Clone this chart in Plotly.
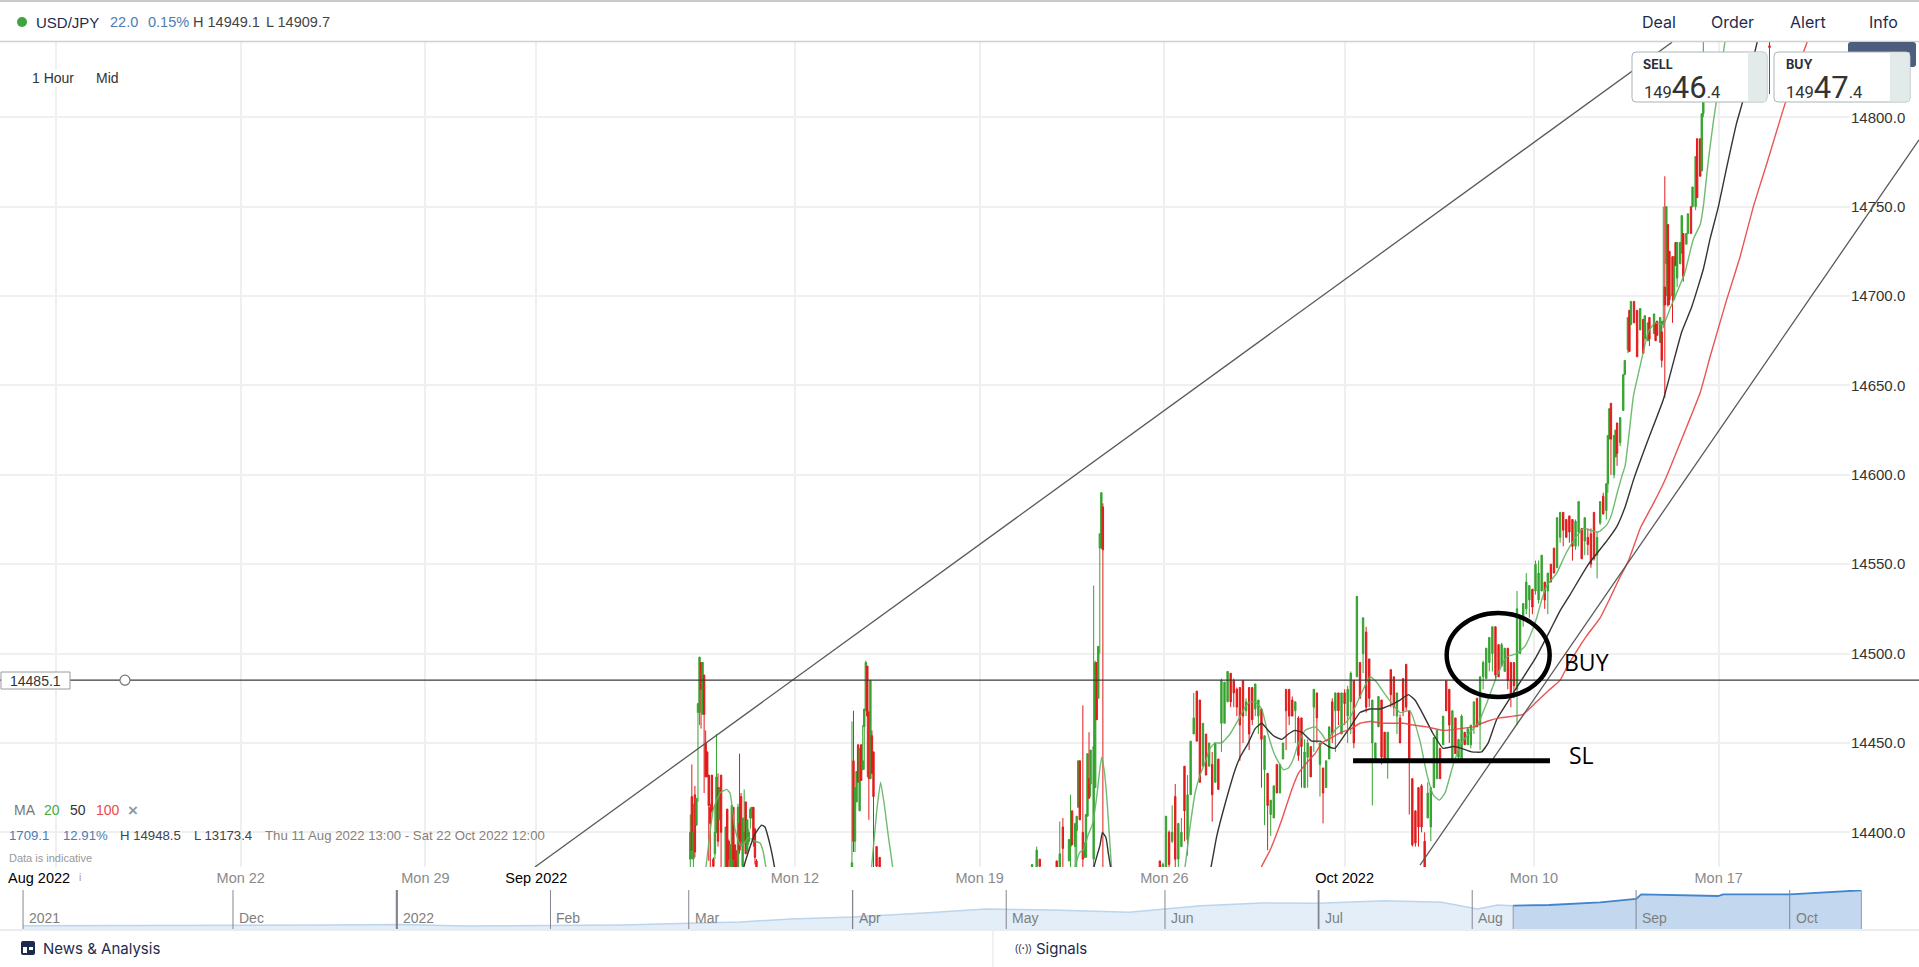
import plotly.graph_objects as go

# ---- hourly candles (x = trading hours since Mon 15 Aug 2022) ----
a_hours = list(range(412, 433)) + list(range(435, 456))
a_open = [14385,14420,14385,14421,14404,14467,14467,14495,14466,14488,14450,14445,14432,14414,14432,14385,14388,14400,14425,14407,14432,14380,14413,14395,14381,14380,14414,14393,14385,14380,14405,14420,14381,14395,14417,14389,14395,14408,14408,14414,14402,14384]
a_high = [14410,14438,14416,14426,14419,14472,14498,14495,14495,14488,14457,14445,14432,14416,14432,14386,14415,14455,14433,14425,14432,14403,14413,14396,14393,14415,14414,14393,14390,14416,14444,14422,14408,14424,14417,14407,14402,14414,14414,14414,14402,14385]
a_low = [14378,14385,14378,14386,14404,14417,14460,14458,14466,14422,14431,14431,14384,14380,14411,14375,14385,14400,14392,14407,14380,14375,14378,14378,14375,14378,14380,14375,14375,14378,14388,14392,14378,14395,14388,14389,14393,14402,14408,14392,14382,14375]
a_close = [14400,14390,14400,14389,14419,14472,14498,14480,14495,14466,14431,14431,14415,14405,14412,14381,14400,14431,14395,14425,14400,14403,14381,14385,14393,14415,14385,14380,14380,14414,14390,14395,14408,14400,14388,14407,14400,14413,14414,14395,14386,14378]

b_hours = [517,518,519,520,521,522,523,524,525,526,527,528,529,530,531,533,535]
b_open = [14380,14440,14395,14417,14449,14412,14449,14435,14459,14468,14493,14467,14430,14454,14445,14392,14386]
b_high = [14462,14468,14425,14434,14449,14447,14449,14460,14469,14496,14493,14468,14485,14457,14445,14392,14386]
b_low = [14378,14389,14389,14417,14428,14412,14429,14435,14435,14468,14431,14407,14430,14433,14380,14378,14375]
b_close = [14383,14395,14425,14434,14428,14447,14429,14440,14469,14495,14465,14430,14485,14433,14420,14381,14378]

c_hours = [634,637,639,650,652,654,658,659,660,662,663,664,665,667,668,669,670,671,672,674,675,676,677,678,679,680]
c_open = [14378,14378,14385,14384,14380,14403,14384,14392,14412,14392,14401,14414,14440,14400,14386,14386,14409,14430,14427,14385,14425,14495,14475,14559,14559,14582]
c_high = [14382,14392,14385,14384,14406,14408,14396,14421,14412,14405,14409,14440,14440,14471,14394,14410,14444,14456,14446,14538,14496,14495,14504,14567,14590,14584]
c_low = [14376,14376,14378,14378,14378,14380,14384,14380,14393,14380,14380,14414,14407,14380,14386,14386,14409,14419,14420,14380,14425,14463,14475,14500,14559,14378]
c_close = [14382,14390,14381,14380,14388,14391,14396,14396,14393,14405,14409,14440,14407,14385,14394,14410,14444,14419,14446,14448,14495,14463,14504,14567,14590,14558]

d1_hours = list(range(717, 845, 2))
d1_open = [14384,14378,14380,14400,14395,14420,14385,14392,14437,14396,
           14421,14455,14479,14474,14437,14455,14437,14438,14428,14441,
           14461,14461,14473,14489,14485,14480,14481,14485,14468,14481,
           14481,14469,14465,14469,14435,14433,14410,14408,14438,14422,
           14441,14480,14480,14474,14468,14464,14464,14425,14442,14448,
           14470,14478,14438,14436,14425,14441,14473,14468,14478,14455,
           14478,14465,14473,14485]
d1_high = [14384,14383,14409,14401,14415,14427,14405,14408,14437,14432,
           14451,14478,14479,14474,14461,14455,14450,14445,14450,14441,
           14486,14484,14490,14489,14486,14481,14481,14485,14475,14481,
           14481,14483,14474,14469,14454,14433,14418,14426,14438,14438,
           14450,14480,14480,14476,14473,14465,14464,14452,14452,14448,
           14480,14478,14450,14436,14440,14459,14475,14478,14478,14478,
           14480,14482,14490,14485]
d1_low = [14378,14375,14378,14378,14394,14378,14378,14392,14395,14387,
          14421,14455,14451,14428,14437,14432,14437,14406,14428,14424,
          14445,14461,14473,14470,14470,14465,14440,14450,14465,14446,
          14460,14465,14455,14425,14404,14390,14398,14408,14422,14422,
          14441,14446,14460,14465,14450,14440,14425,14425,14425,14431,
          14445,14450,14420,14405,14425,14441,14450,14445,14460,14455,
          14460,14450,14455,14447]
d1_close = [14379,14382,14409,14382,14400,14385,14405,14400,14412,14421,
            14451,14464,14451,14428,14461,14432,14450,14421,14450,14424,
            14485,14484,14490,14473,14478,14470,14460,14465,14473,14455,
            14463,14483,14474,14452,14454,14415,14418,14426,14422,14438,
            14450,14468,14465,14465,14473,14443,14448,14445,14450,14431,
            14480,14464,14450,14422,14440,14459,14455,14478,14468,14478,
            14472,14480,14489,14450]

d2_hours = list(range(845, 969, 2))
d2_open = [14487,14495,14500,14512,14497,14450,14440,14459,14474,14456,
           14440,14491,14487,14465,14464,14486,14494,14468,14430,14412,
           14425,14426,14395,14408,14403,14425,14430,14447,14449,14485,
           14480,14441,14464,14442,14441,14456,14449,14449,14460,14475,
           14460,14487,14486,14495,14500,14515,14505,14493,14490,14503,
           14495,14495,14480,14500,14520,14525,14530,14536,14535,14530,
           14535,14540]
d2_high = [14532,14495,14520,14515,14497,14474,14450,14476,14474,14456,
           14456,14491,14487,14478,14466,14486,14494,14468,14430,14412,
           14425,14427,14400,14428,14425,14453,14457,14447,14465,14485,
           14480,14468,14464,14452,14466,14456,14458,14460,14473,14475,
           14487,14496,14503,14509,14515,14515,14505,14506,14503,14503,
           14495,14495,14535,14520,14528,14545,14538,14536,14552,14552,
           14555,14540]
d2_low = [14487,14475,14489,14467,14470,14415,14440,14459,14438,14440,
          14430,14470,14465,14455,14450,14465,14468,14410,14392,14392,
          14392,14400,14378,14408,14395,14425,14430,14430,14449,14468,
          14450,14441,14444,14440,14441,14449,14449,14447,14455,14459,
          14446,14480,14486,14490,14490,14485,14487,14493,14490,14480,
          14470,14475,14460,14500,14515,14522,14520,14522,14533,14528,
          14535,14525]
d2_close = [14532,14475,14520,14470,14475,14474,14450,14476,14442,14440,
            14456,14477,14470,14478,14450,14468,14470,14440,14393,14394,
            14403,14403,14380,14422,14425,14453,14457,14430,14465,14468,
            14460,14468,14444,14452,14465,14449,14458,14460,14473,14459,
            14487,14495,14503,14509,14515,14488,14487,14505,14503,14485,
            14476,14482,14525,14520,14528,14540,14538,14526,14550,14545,
            14555,14530]

d3_hours = list(range(969, 1009, 2))
d3_open = [14535,14550,14559,14548,14565,14579,14575,14577,14575,14560,14568,14570,14563,14565,14567,14579,14555,14573,14588,14580]
d3_high = [14545,14550,14559,14576,14579,14579,14575,14577,14575,14575,14585,14570,14576,14570,14570,14579,14568,14585,14590,14595]
d3_low = [14522,14540,14545,14548,14562,14560,14565,14562,14552,14558,14560,14553,14555,14555,14548,14552,14542,14572,14578,14575]
d3_close = [14545,14540,14545,14576,14579,14569,14565,14568,14560,14574,14585,14553,14576,14561,14550,14553,14565,14585,14578,14595]

d4_hours = [1008,1009,1010,1012,1013,1014,1016,1018,1019,1021,1022,1023,1025,1027,1029,1031,1032,1034,1035,1038,1039,1040,1042,1043,1044,1045,1046,1047,1048,1050,1051,1052,1053,1055,1056,1057,1059,1060,1062,1063,1065,1066,1068,1069,1070,1113]
d4_open = [14595,14620,14640,14600,14610,14629,14618,14636,14656,14670,14692,14684,14697,14692,14681,14687,14676,14675,14688,14679,14685,14686,14674,14680,14684,14705,14718,14740,14725,14722,14698,14730,14710,14718,14724,14735,14729,14735,14750,14750,14750,14788,14788,14770,14802,14840]
d4_high = [14622,14637,14640,14622,14625,14629,14632,14656,14664,14688,14692,14697,14697,14692,14693,14687,14689,14685,14688,14690,14685,14686,14688,14686,14750,14767,14750,14740,14725,14722,14722,14730,14730,14730,14745,14735,14735,14746,14750,14761,14778,14788,14788,14802,14845,14870]
d4_low = [14590,14620,14600,14598,14610,14605,14616,14636,14656,14668,14669,14684,14685,14666,14681,14668,14676,14675,14672,14679,14675,14678,14674,14660,14682,14643,14700,14694,14695,14685,14698,14717,14705,14718,14724,14708,14729,14735,14735,14750,14748,14755,14767,14770,14800,14813]
d4_close = [14622,14637,14620,14622,14625,14612,14632,14656,14664,14688,14669,14697,14685,14666,14693,14668,14689,14685,14676,14690,14675,14678,14688,14664,14686,14695,14750,14695,14698,14700,14722,14717,14730,14730,14745,14711,14735,14746,14735,14761,14778,14755,14767,14802,14825,14839]

for s in ("a", "b", "c", "d1", "d2", "d3", "d4"):
    n = len(globals()[s + "_hours"])
    for f in ("open", "high", "low", "close"):
        assert len(globals()[f"{s}_{f}"]) == n, (s, f, n, len(globals()[f"{s}_{f}"]))

hours = a_hours + b_hours + c_hours + d1_hours + d2_hours + d3_hours + d4_hours
opens = a_open + b_open + c_open + d1_open + d2_open + d3_open + d4_open
highs = a_high + b_high + c_high + d1_high + d2_high + d3_high + d4_high
lows = a_low + b_low + c_low + d1_low + d2_low + d3_low + d4_low
closes = a_close + b_close + c_close + d1_close + d2_close + d3_close + d4_close

# ---- moving averages ----
ma20_x = [415,422.2,424.8,427,431.3,435.6,437.8,441,444.3,446.4,449.7,454,457.3,459.4,461,465,
          525,529.8,533,535.6,538.4,540.6,543.4,548,
          655,662,665.2,667.3,670.6,673.4,676,677.7,679.2,680.8,682.5,684.7,685.7,692,
          725,733.4,736.6,739.9,743.1,746.4,749.6,752.9,757.2,762.6,768,772.4,775.6,778.9,783.2,787.5,791.8,797.3,800.5,803.7,807,811.3,817.8,822.2,825.4,828.6,833,837.3,841.6,
          847,853.5,857.8,864.3,873,879.4,886,890.3,894.6,898.5,902.2,907.6,913,919.5,923.8,929.2,935.7,942.2,948.7,954.1,
          957.5,961.8,965,968.3,974.8,980.2,985.6,992.1,996.5,1001.9,1007.3,1010.5,1013.8,1017,1019.2,
          1021.4,1024.6,1029,1034.3,1038.7,1044,1048.4,1053.8,1058,1063.6,1068,1070,1073.3,1076.6,1078.7,1084,1088]
ma20_y = [14350,14381,14400,14413,14422,14424,14422,14402,14393,14393,14397,14395,14394,14389,14381,14360,
          14350,14381,14411,14428,14413,14398,14381,14350,
          14350,14381,14389,14390,14399,14405,14420,14433,14442,14435,14420,14392,14380,14350,
          14340,14381,14403,14422,14432,14439,14447,14450,14450,14455,14463,14470,14473,14473,14469,14454,14443,14435,14436,14441,14450,14457,14459,14455,14451,14455,14459,14461,14466,
          14476,14487,14484,14476,14467,14468,14451,14433,14421,14418,14422,14438,14450,14457,14461,14472,14487,14498,14500,14504,
          14510,14520,14530,14538,14545,14555,14563,14570,14569,14568,14572,14578,14589,14599,14605,
          14620,14644,14661,14680,14685,14684,14693,14704,14713,14732,14740,14750,14776,14798,14810,14842,14870]

ma50_x = [440,446.9,449.7,454,458.3,460.5,463.8,466.6,472,
          668,674.3,678.2,679.7,682,683.6,685.1,690,
          742,750.3,754,759.4,765.9,769.1,774.5,778.9,783.2,786.4,790.8,796.2,800.5,804.8,809.2,815.7,821.1,826.5,830.8,835.1,841.5,
          847,853.5,860,866.4,873,878.4,882.7,888,894.6,901,907.6,913,919.5,926,930.3,935.7,942.2,948.7,954,
          960.7,970.5,977,983.5,995.4,1007.3,1013.8,1019.2,1024.6,1027,
          1034.3,1044,1050.6,1056,1062.5,1070,1074.4,1079.8,1085.2,1091.7,1096,1105,1110]
ma50_y = [14350,14381,14389,14399,14404,14403,14393,14381,14350,
          14350,14381,14393,14400,14397,14388,14380,14350,
          14350,14381,14398,14416,14435,14442,14450,14458,14461,14458,14454,14452,14455,14457,14456,14451,14451,14448,14447,14452,14460,
          14467,14469,14469,14471,14474,14477,14474,14466,14455,14447,14448,14447,14445,14445,14450,14463,14472,14481,14488,
          14497,14513,14524,14533,14550,14563,14571,14582,14597,14603,
          14620,14642,14663,14680,14694,14715,14732,14750,14772,14797,14810,14842,14860]

ma100_x = [775,783.2,788.6,796.2,802.7,807,813.5,817.8,822.2,828.6,835.1,841.5,
           847,853.5,862,875,881.6,890.3,901,911.9,920.6,929.2,937.9,946.6,953,961.7,970.4,976.9,981.2,
           986.7,994.3,1003,1009.4,1014.9,1021.4,1029,1037.6,1044,1048,
           1056,1068,1074.4,1085.2,1093.9,1102.5,1111.2,1124,1137.4,1145]
ma100_y = [14360,14381,14390,14407,14424,14433,14440,14444,14450,14453,14456,14458,
           14461,14462,14461,14461,14460,14459,14457,14458,14459,14462,14464,14465,14466,14473,14480,14485,14492,
           14500,14510,14520,14531,14541,14552,14570,14584,14595,14603,
           14620,14646,14666,14698,14722,14750,14774,14810,14842,14860]

# ---- drawn lines ----
trend1_x = [311.1, 1049.7]
trend1_y = [14380.6, 14842.0]
trend2_x = [886.0, 1210.1]
trend2_y = [14381.7, 14787.4]
level_value = 14485.1

# ---- axes ----
y_ticks = [14400, 14450, 14500, 14550, 14600, 14650, 14700, 14750, 14800]
x_ticks = [0, 120, 240, 312, 480, 600, 720, 837, 960, 1080]
x_labels = ["", "Mon 22", "Mon 29", "Sep 2022", "Mon 12", "Mon 19", "Mon 26", "Oct 2022", "Mon 10", "Mon 17"]

# ---- navigator ----
nav_dates = ["2021-10-21","2021-11-10","2021-12-01","2021-12-20","2022-01-03","2022-01-15","2022-02-01","2022-02-15",
             "2022-02-28","2022-03-10","2022-03-20","2022-04-01","2022-04-15","2022-04-27","2022-05-10","2022-05-25",
             "2022-06-01","2022-06-08","2022-06-20","2022-07-01","2022-07-14","2022-07-25","2022-08-01","2022-08-05","2022-08-08"]
nav_values = [10875,10900,10860,10950,11010,10840,10900,10950,11150,11300,11640,11875,12335,12800,12680,12415,
              12800,13175,13485,13450,13750,13565,12800,13255,13175]
sel_dates = ["2022-08-08","2022-08-15","2022-08-25","2022-09-01","2022-09-02","2022-09-17","2022-09-18","2022-10-01","2022-10-15"]
sel_values = [13175,13255,13565,13945,14485,14290,14485,14485,14945]
nav_ticks = ["2021-10-21","2021-12-01","2022-01-02","2022-02-01","2022-02-28","2022-04-01","2022-05-01","2022-06-01","2022-07-01","2022-07-31","2022-09-01","2022-10-01"]
nav_labels = ["2021","Dec","2022","Feb","Mar","Apr","May","Jun","Jul","Aug","Sep","Oct"]
nav_widths = [1, 1, 2.2, 1, 1, 1.3, 1, 1, 1.8, 1, 1, 1]

W, H = 1919, 967
SANS = "Liberation Sans, Arial, sans-serif"
GREEN, RED = "#35a32f", "#e21a1a"

fig = go.Figure()
# grid-only trace on the first subplot
fig.add_trace(go.Scatter(x=[0], y=[14500], mode="markers", marker=dict(opacity=0), hoverinfo="skip",
                         showlegend=False, xaxis="x", yaxis="y"))
fig.add_trace(go.Candlestick(
    x=hours, open=opens, high=highs, low=lows, close=closes, xaxis="x2", yaxis="y2",
    increasing=dict(line=dict(color=GREEN, width=1), fillcolor=GREEN),
    decreasing=dict(line=dict(color=RED, width=1), fillcolor=RED),
    whiskerwidth=0, showlegend=False, hoverinfo="skip"))
for xs, ys, col in [(ma20_x, ma20_y, "rgba(95,180,95,0.9)"),
                    (ma50_x, ma50_y, "#333333"),
                    (ma100_x, ma100_y, "rgba(232,65,65,0.9)")]:
    fig.add_trace(go.Scatter(x=xs, y=ys, mode="lines", line=dict(color=col, width=1.4, shape="spline", smoothing=0.4),
                             xaxis="x2", yaxis="y2", showlegend=False, hoverinfo="skip"))
for xs, ys in [(trend1_x, trend1_y), (trend2_x, trend2_y)]:
    fig.add_trace(go.Scatter(x=xs, y=ys, mode="lines", line=dict(color="#5a5a5a", width=1.3),
                             xaxis="x2", yaxis="y2", showlegend=False, hoverinfo="skip"))
fig.add_trace(go.Scatter(x=[-40, 1215], y=[level_value, level_value], mode="lines",
                         line=dict(color="#3a3a3a", width=1.2), xaxis="x2", yaxis="y2",
                         showlegend=False, hoverinfo="skip"))
fig.add_trace(go.Scatter(x=[44.8], y=[level_value], mode="markers",
                         marker=dict(size=10, color="white", line=dict(color="#777777", width=1.2)),
                         xaxis="x2", yaxis="y2", showlegend=False, hoverinfo="skip"))
# navigator
fig.add_trace(go.Scatter(x=nav_dates, y=nav_values, mode="lines", fill="tozeroy", fillcolor="#e3eef8",
                         line=dict(color="#bcd5ec", width=1.5), xaxis="x3", yaxis="y3",
                         showlegend=False, hoverinfo="skip"))
fig.add_trace(go.Scatter(x=sel_dates, y=sel_values, mode="lines", fill="tozeroy", fillcolor="#c3d8ef",
                         line=dict(color="#3f85cf", width=1.8), xaxis="x3", yaxis="y3",
                         showlegend=False, hoverinfo="skip"))

yrange = [14380.6, 14842.1]
ydom = [(H - 867) / H, (H - 42) / H]
layout = dict(
    width=W, height=H, autosize=False, margin=dict(l=0, r=0, t=0, b=0),
    paper_bgcolor="white", plot_bgcolor="rgba(0,0,0,0)", showlegend=False, boxgap=0.12, boxgroupgap=0,
    xaxis=dict(domain=[0, 1850 / W], range=[-36.37, 1165.3], tickmode="array", tickvals=x_ticks,
               ticktext=[f'<span style="color:#000">{t}</span>' if "20" in t else t for t in x_labels],
               showgrid=True, gridcolor="#efefef", gridwidth=1.5, zeroline=False, showline=False, ticks="",
               tickfont=dict(family=SANS, size=14.5, color="#8a8a8a"), anchor="y", fixedrange=True),
    yaxis=dict(domain=ydom, range=yrange, side="right", anchor="x", tickmode="array", tickvals=y_ticks,
               ticktext=[f"{v:.1f}" for v in y_ticks], showgrid=True, gridcolor="#f0f0f0", gridwidth=1.5,
               zeroline=False, showline=False, ticks="", tickfont=dict(family=SANS, size=15, color="#333333"),
               fixedrange=True),
    xaxis2=dict(domain=[0, 1], range=[-36.37, 1210.1], visible=False, rangeslider=dict(visible=False),
                anchor="y2", fixedrange=True),
    yaxis2=dict(domain=ydom, range=yrange, visible=False, anchor="x2", fixedrange=True),
    xaxis3=dict(domain=[0, 1], type="date", range=["2021-10-16 12:00", "2022-10-26 06:00"], visible=False,
                anchor="y3", fixedrange=True),
    yaxis3=dict(domain=[(H - 929) / H, (H - 890) / H], range=[10490, 14980], visible=False, anchor="x3",
                fixedrange=True),
)

def px(x): return x / W
def py(y): return 1 - y / H

def rrect(x0, y0, x1, y1, r=4):
    a, b, c, d = px(x0), py(y0), px(x1), py(y1)
    rx, ry = r / W, r / H
    return (f"M{a + rx},{b} L{c - rx},{b} Q{c},{b} {c},{b - ry} L{c},{d + ry} Q{c},{d} {c - rx},{d} "
            f"L{a + rx},{d} Q{a},{d} {a},{d + ry} L{a},{b - ry} Q{a},{b} {a + rx},{b} Z")

shapes = [
    dict(type="rect", xref="paper", yref="paper", x0=0, x1=1, y0=py(2), y1=py(0), fillcolor="#c9c9c9", line_width=0),
    dict(type="line", xref="paper", yref="paper", x0=0, x1=1, y0=py(41.5), y1=py(41.5), line=dict(color="#d0d0d0", width=1.5)),
    dict(type="line", xref="paper", yref="paper", x0=0, x1=1, y0=py(930), y1=py(930), line=dict(color="#e3e6e8", width=1.5)),
    dict(type="line", xref="paper", yref="paper", x0=px(993), x1=px(993), y0=py(931), y1=0, line=dict(color="#e3e3e3", width=1)),
    dict(type="circle", xref="paper", yref="paper", x0=px(17), x1=px(27), y0=py(27), y1=py(17), fillcolor="#3fa33f", line_width=0),
]
for d, w in zip(nav_ticks, nav_widths):
    shapes.append(dict(type="line", xref="x3", yref="paper", x0=d, x1=d, y0=py(929), y1=py(890),
                       line=dict(color="#85858f", width=w)))
shapes.append(dict(type="line", xref="x3", yref="paper", x0="2022-08-08", x1="2022-08-08", y0=py(929), y1=py(905.5),
                   line=dict(color="#85858f", width=0.8)))
shapes.append(dict(type="line", xref="x3", yref="paper", x0="2022-10-15", x1="2022-10-15", y0=py(929), y1=py(891),
                   line=dict(color="#85858f", width=0.8)))
shapes += [
    # hand-drawn marks
    dict(type="circle", xref="x2", yref="y2", x0=903.3, x1=970.2, y0=14475.7, y1=14522.7, line=dict(color="#000000", width=4.5)),
    dict(type="line", xref="x2", yref="y2", x0=842.5, x1=970.4, y0=14440, y1=14440, line=dict(color="#000000", width=5)),
    # level tag
    dict(type="rect", xref="paper", yref="paper", x0=px(1), x1=px(70), y0=py(689), y1=py(672), fillcolor="white", line=dict(color="#9a9a9a", width=1)),
    # price tag and sell / buy boxes
    dict(type="path", xref="paper", yref="paper", path=rrect(1848, 42, 1916, 67, 3), fillcolor="#4c5d7d", line_width=0),
    dict(type="path", xref="paper", yref="paper", path=rrect(1632, 52, 1767, 102), fillcolor="white", line=dict(color="#aab4b6", width=1)),
    dict(type="rect", xref="paper", yref="paper", x0=px(1748), x1=px(1766.5), y0=py(101.5), y1=py(52.5), fillcolor="#e3eaea", line_width=0),
    dict(type="path", xref="paper", yref="paper", path=rrect(1774, 52, 1910, 102), fillcolor="white", line=dict(color="#aab4b6", width=1)),
    dict(type="rect", xref="paper", yref="paper", x0=px(1890), x1=px(1909.5), y0=py(101.5), y1=py(52.5), fillcolor="#e3eaea", line_width=0),
    # news icon
    dict(type="path", xref="paper", yref="paper", path=rrect(21, 941, 35, 955, 2), fillcolor="#1d2b4f", line_width=0),
    dict(type="rect", xref="paper", yref="paper", x0=px(23), x1=px(27), y0=py(953), y1=py(947), fillcolor="white", line_width=0),
    dict(type="rect", xref="paper", yref="paper", x0=px(29), x1=px(33), y0=py(950), y1=py(947), fillcolor="white", line_width=0),
]
layout["shapes"] = shapes

def note(x, y, text, size=14, color="#333333", anchor="left", family=SANS, **kw):
    return dict(xref="paper", yref="paper", x=px(x), y=py(y), text=text, showarrow=False, xanchor=anchor, yanchor="middle",
                font=dict(family=family, size=size, color=color), borderpad=0, **kw)

BLUE = "#4a7db5"
NAVY = "#1d2b4f"
ann = [
    note(35, 22, "USD/JPY", 15, NAVY),
    note(109, 22, "22.0", 14.5, BLUE), note(147, 22, "0.15%", 14.5, BLUE),
    note(192, 22, "H 14949.1", 14.5, "#444444"), note(265, 22, "L 14909.7", 14.5, "#444444"),
    note(1641, 22, "Deal", 16, NAVY, family="Inter"), note(1710, 22, "Order", 16, NAVY, family="Inter"),
    note(1789, 22, "Alert", 16, NAVY, family="Inter"), note(1868, 22, "Info", 16, NAVY, family="Inter"),
    note(31, 78, "1 Hour", 14, "#333333", bgcolor="white"), note(95, 78, "Mid", 14, "#333333"),
    note(35.5, 680.5, "14485.1", 14, "#333333", anchor="center"),
    note(13, 810, "MA", 14, "#777777"), note(43, 810, "20", 14, "#45a845"), note(69, 810, "50", 14, "#333333"),
    note(95, 810, "100", 14, "#e84a4a"), note(127, 810, "<b>×</b>", 17, "#999999"),
    note(8, 835, "1709.1", 13.2, BLUE), note(62, 835, "12.91%", 13.2, BLUE),
    note(119, 835, "H 14948.5", 13.2, "#444444"), note(193, 835, "L 13173.4", 13.2, "#444444"),
    note(264, 835, "Thu 11 Aug 2022 13:00 - Sat 22 Oct 2022 12:00", 13.2, "#8a7f78"),
    note(8, 858, "Data is indicative", 11, "#999999"),
    note(7, 878, "Aug 2022", 14.5, "#000000"),
    note(78, 877, "i", 10, "#999999"),
    note(1563, 662, "BUY", 23, "#000000", family="Open Sans"),
    note(1568, 755, "SL", 23, "#000000", family="Open Sans"),
    note(1642, 65, "<b>SELL</b>", 12.5, "#2a2f3a", family="Inter"),
    note(1643, 87, '149<span style="font-size:31px">46</span>.4', 16.5, "#333333", family="Roboto"),
    note(1785, 65, "<b>BUY</b>", 12.5, "#2a2f3a", family="Inter"),
    note(1785, 87, '149<span style="font-size:31px">47</span>.4', 16.5, "#333333", family="Roboto"),
    note(42, 948, "News &amp; Analysis", 15, NAVY, family="Inter"),
    note(1014, 948, "((<b>·</b>))", 10, NAVY),
    note(1035, 948, "Signals", 15, NAVY, family="Inter"),
]
for d, t in zip(nav_ticks, nav_labels):
    ann.append(dict(xref="x3", yref="paper", x=d, y=py(918), text=t, showarrow=False, xanchor="left", yanchor="middle",
                    xshift=4, font=dict(family=SANS, size=14, color="#7e7e7e")))
layout["annotations"] = ann
fig.update_layout(**layout)

fig.write_html("out.html", config=dict(displayModeBar=False, responsive=False),
               post_script="document.body.style.margin='0';document.documentElement.style.overflow='hidden';")
